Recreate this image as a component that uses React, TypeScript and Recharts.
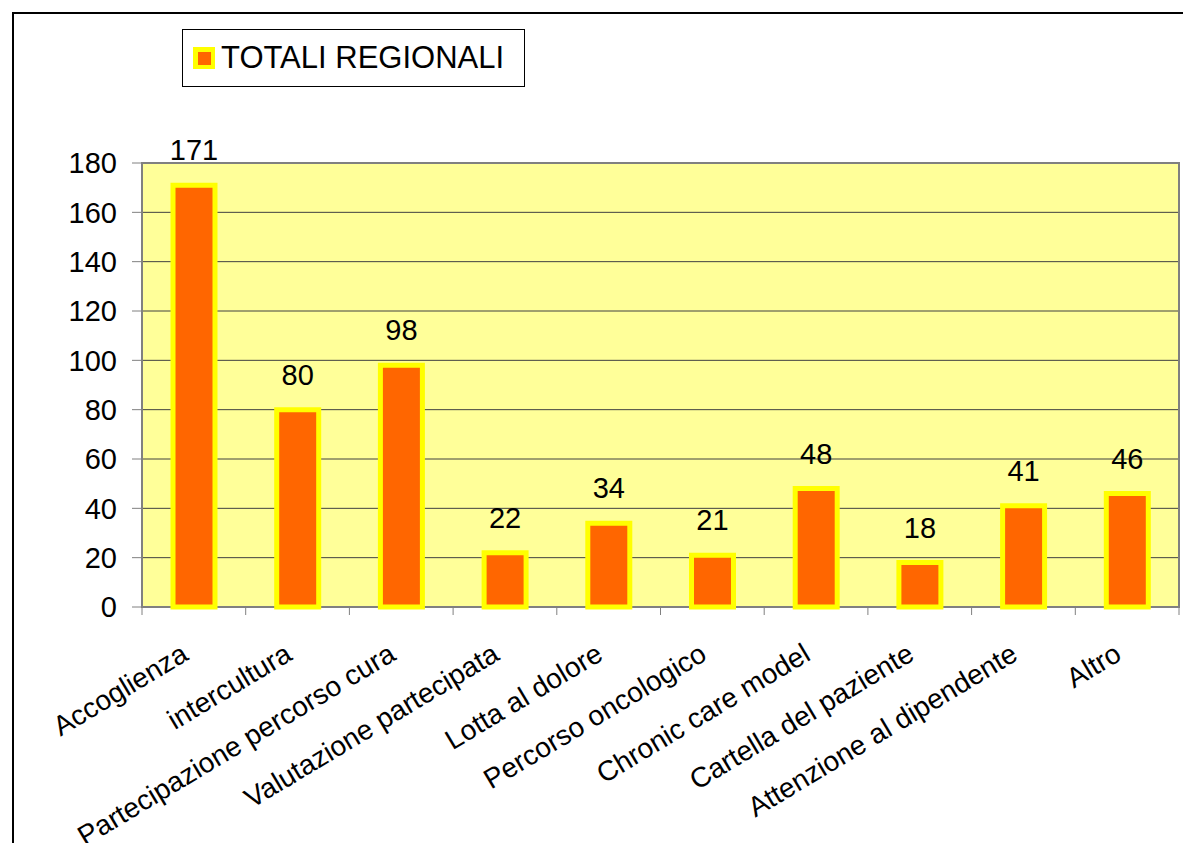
import { BarChart, Bar, XAxis, YAxis, CartesianGrid, Legend, LabelList, ReferenceArea } from 'recharts'

const categories = [
  'Accoglienza',
  'intercultura',
  'Partecipazione percorso cura',
  'Valutazione partecipata',
  'Lotta al dolore',
  'Percorso oncologico',
  'Chronic care model',
  'Cartella del paziente',
  'Attenzione al dipendente',
  'Altro',
]
const totaliRegionali = [171, 80, 98, 22, 34, 21, 48, 18, 41, 46]
const yTicks = [0, 20, 40, 60, 80, 100, 120, 140, 160, 180]
const seriesName = 'TOTALI REGIONALI'

const data = categories.map((name, i) => ({ name, totali: totaliRegionali[i] }))

const FONT = '"Liberation Sans", Arial, sans-serif'
const ORANGE = '#FF6600'
const YELLOW = '#FFFF00'

function CategoryTick(props: any) {
  const { x, y, payload, index } = props
  const half = payload?.offset ?? 51.85
  const axisY = y - 8
  const tx = x - 4
  const ty = axisY + 52
  return (
    <g>
      <line x1={x - half} x2={x - half} y1={axisY} y2={axisY + 8} stroke="#808080" />
      {index === categories.length - 1 && (
        <line x1={x + half} x2={x + half} y1={axisY} y2={axisY + 8} stroke="#808080" />
      )}
      <text
        x={tx}
        y={ty}
        textAnchor="end"
        transform={`rotate(-31 ${tx} ${ty})`}
        fontSize={28}
        fill="#000"
        fontFamily={FONT}
      >
        {payload.value}
      </text>
    </g>
  )
}

function LegendBox() {
  return (
    <div
      style={{
        boxSizing: 'border-box',
        width: 343,
        height: 58,
        border: '1px solid #000',
        background: '#fff',
        display: 'flex',
        alignItems: 'center',
        fontFamily: FONT,
      }}
    >
      <span
        style={{
          marginLeft: 10,
          width: 22,
          height: 22,
          background: YELLOW,
          display: 'flex',
          alignItems: 'center',
          justifyContent: 'center',
        }}
      >
        <span style={{ width: 13, height: 13, background: ORANGE }} />
      </span>
      <span style={{ marginLeft: 6, fontSize: 31, color: '#000' }}>{seriesName}</span>
    </div>
  )
}

export default function App() {
  return (
    <div style={{ position: 'relative', width: 1183, height: 835, overflow: 'hidden', fontFamily: FONT }}>
      <div
        style={{
          position: 'absolute',
          left: 4,
          top: 4,
          width: 1300,
          height: 900,
          borderLeft: '2px solid #000',
          borderTop: '2px solid #000',
        }}
      />
      <BarChart
        width={1183}
        height={835}
        data={data}
        margin={{ top: 155, right: 12, left: 0, bottom: 0 }}
        style={{ position: 'absolute', left: 0, top: 0, fontFamily: FONT }}
      >
        <CartesianGrid vertical={false} fill="#FFFF99" fillOpacity={1} stroke="#404040" />
        <XAxis
          dataKey="name"
          interval={0}
          height={236}
          tickSize={8}
          tickMargin={0}
          tickLine={false}
          axisLine={false}
          tick={<CategoryTick />}
        />
        <YAxis
          width={134}
          domain={[0, 180]}
          ticks={yTicks}
          interval={0}
          tickSize={10}
          tickMargin={15}
          axisLine={false}
          tickLine={{ stroke: '#808080' }}
          tick={{ fontSize: 29, fill: '#000', fontFamily: FONT }}
        />
        <ReferenceArea y1={0} y2={180} fill="none" stroke="#808080" strokeWidth={2} />
        <Legend
          verticalAlign="middle"
          align="center"
          content={<LegendBox />}
          wrapperStyle={{ left: 174, top: 21, width: 'auto', height: 'auto' }}
        />
        <Bar
          dataKey="totali"
          name={seriesName}
          fill={ORANGE}
          stroke={YELLOW}
          strokeWidth={5}
          barSize={42}
          isAnimationActive={false}
        >
          <LabelList dataKey="totali" position="top" offset={25} fontSize={29} fill="#000" fontFamily={FONT} />
        </Bar>
      </BarChart>
    </div>
  )
}
